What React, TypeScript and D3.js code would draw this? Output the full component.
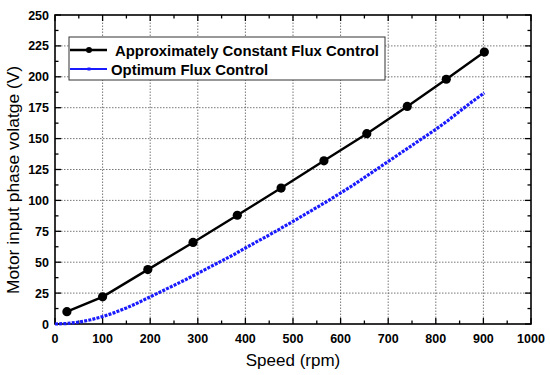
import React, { useEffect, useRef } from 'react';
import * as d3 from 'd3';

// Approximately constant flux control (markers)
const constSpeed = [25, 100, 195, 290, 383, 475, 565, 655, 740, 822, 902];
const constVolt = [10, 22, 44, 66, 88, 110, 132, 154, 176, 198, 220];

// Optimum flux control (dotted)
const optSpeed = [0, 25, 50, 75, 100, 125, 150, 175, 200, 225, 250, 275, 300, 325, 350, 375, 400, 425, 450,
  475, 500, 525, 550, 575, 600, 625, 650, 675, 700, 725, 750, 775, 800, 825, 850, 875, 902];
const optVolt = [0, 0.4, 1.5, 3.4, 6, 9.2, 13, 17.3, 22, 26.6, 31.3, 36, 41, 46, 51, 56, 61.5, 66.8, 72,
  77.5, 83, 88.6, 94.3, 100, 106, 112, 118.5, 125, 131.5, 138, 144.5, 151, 157.5, 164.5, 172, 179.5, 187];

const xTicks = [0, 100, 200, 300, 400, 500, 600, 700, 800, 900, 1000];
const yTicks = [0, 25, 50, 75, 100, 125, 150, 175, 200, 225, 250];
const legendLabels = ['Approximately Constant Flux Control', 'Optimum Flux Control'];

const App = () => {
  const ref = useRef<SVGSVGElement>(null);

  useEffect(() => {
    const width = 550;
    const height = 375;
    const margin = { top: 15, right: 19, bottom: 51, left: 55 };
    const svg = d3.select(ref.current);
    svg.selectAll('*').remove();

    const x = d3.scaleLinear().domain([0, 1000]).range([margin.left, width - margin.right]);
    const y = d3.scaleLinear().domain([0, 250]).range([height - margin.bottom, margin.top]);
    const font = 'Arial, "Liberation Sans", sans-serif';

    // grid
    const grid = svg.append('g').attr('stroke', '#555').attr('stroke-width', 0.8).attr('stroke-dasharray', '1.5,1.5');
    grid.selectAll('.gx').data(xTicks.slice(1, -1)).join('line')
      .attr('x1', (d) => x(d)).attr('x2', (d) => x(d)).attr('y1', y(0)).attr('y2', y(250));
    grid.selectAll('.gy').data(yTicks.slice(1, -1)).join('line')
      .attr('y1', (d) => y(d)).attr('y2', (d) => y(d)).attr('x1', x(0)).attr('x2', x(1000));

    // axes with inward ticks
    const xMinor = d3.range(50, 1000, 100);
    const yMinor = d3.range(12.5, 250, 25);
    const ax = svg.append('g').attr('stroke', '#000').attr('stroke-width', 1.3);
    const tick = (data: number[], len: number, cls: string) => {
      ax.selectAll('.xb' + cls).data(data).join('line').attr('class', 'xb' + cls)
        .attr('x1', (d) => x(d)).attr('x2', (d) => x(d)).attr('y1', y(0)).attr('y2', y(0) - len);
      ax.selectAll('.xt' + cls).data(data).join('line').attr('class', 'xt' + cls)
        .attr('x1', (d) => x(d)).attr('x2', (d) => x(d)).attr('y1', y(250)).attr('y2', y(250) + len);
    };
    const tickY = (data: number[], len: number, cls: string) => {
      ax.selectAll('.yl' + cls).data(data).join('line').attr('class', 'yl' + cls)
        .attr('y1', (d) => y(d)).attr('y2', (d) => y(d)).attr('x1', x(0)).attr('x2', x(0) + len);
      ax.selectAll('.yr' + cls).data(data).join('line').attr('class', 'yr' + cls)
        .attr('y1', (d) => y(d)).attr('y2', (d) => y(d)).attr('x1', x(1000)).attr('x2', x(1000) - len);
    };
    tick(xTicks, 6, 'M');
    tick(xMinor, 3.5, 'm');
    tickY(yTicks, 6, 'M');
    tickY(yMinor, 3.5, 'm');

    svg.append('rect')
      .attr('x', x(0)).attr('y', y(250))
      .attr('width', x(1000) - x(0)).attr('height', y(0) - y(250))
      .attr('fill', 'none').attr('stroke', '#000').attr('stroke-width', 1.6);

    // tick labels
    svg.append('g').selectAll('text').data(xTicks).join('text')
      .attr('x', (d) => x(d)).attr('y', y(0) + 19)
      .attr('text-anchor', 'middle').attr('font-family', font).attr('font-weight', 'bold').attr('font-size', 12.5)
      .text((d) => d);
    svg.append('g').selectAll('text').data(yTicks).join('text')
      .attr('x', x(0) - 6).attr('y', (d) => y(d) + 4.5)
      .attr('text-anchor', 'end').attr('font-family', font).attr('font-weight', 'bold').attr('font-size', 12.5)
      .text((d) => d);

    // axis titles
    svg.append('text').attr('x', x(500)).attr('y', 366).attr('text-anchor', 'middle')
      .attr('font-family', font).attr('font-size', 17).text('Speed (rpm)');
    svg.append('text').attr('transform', 'translate(19,180) rotate(-90)').attr('text-anchor', 'middle')
      .attr('font-family', font).attr('font-size', 17.4).text('Motor input phase volatge (V)');

    // series
    const constData = constSpeed.map((s, i) => [s, constVolt[i]] as [number, number]);
    const optData = optSpeed.map((s, i) => [s, optVolt[i]] as [number, number]);
    const line = d3.line<[number, number]>().x((d) => x(d[0])).y((d) => y(d[1]));

    svg.append('path').datum(optData).attr('d', line)
      .attr('fill', 'none').attr('stroke', '#1a1aff').attr('stroke-width', 3.2).attr('stroke-dasharray', '3,1.2');

    svg.append('path').datum(constData).attr('d', line)
      .attr('fill', 'none').attr('stroke', '#000').attr('stroke-width', 2.4);
    svg.append('g').selectAll('circle').data(constData).join('circle')
      .attr('cx', (d) => x(d[0])).attr('cy', (d) => y(d[1])).attr('r', 4.6).attr('fill', '#000');

    // legend
    const lg = svg.append('g');
    lg.append('rect').attr('x', 69).attr('y', 37).attr('width', 316).attr('height', 43)
      .attr('fill', '#fff').attr('stroke', '#333').attr('stroke-width', 1);
    lg.append('line').attr('x1', 70).attr('x2', 107).attr('y1', 50).attr('y2', 50)
      .attr('stroke', '#000').attr('stroke-width', 2.4);
    lg.append('circle').attr('cx', 89).attr('cy', 50).attr('r', 3).attr('fill', '#000');
    lg.append('line').attr('x1', 70).attr('x2', 107).attr('y1', 69).attr('y2', 69)
      .attr('stroke', '#1a1aff').attr('stroke-width', 2.2);
    lg.append('rect').attr('x', 87.5).attr('y', 67.5).attr('width', 3).attr('height', 3).attr('fill', '#1a1aff');
    lg.append('text').attr('x', 115).attr('y', 55.5).attr('font-family', font).attr('font-weight', 'bold')
      .attr('font-size', 14.9).text(legendLabels[0]);
    lg.append('text').attr('x', 111).attr('y', 74.5).attr('font-family', font).attr('font-weight', 'bold')
      .attr('font-size', 14.9).text(legendLabels[1]);
  }, []);

  return (
    <svg ref={ref} width={550} height={375}
      style={{ position: 'absolute', left: 0, top: 0, background: '#fff' }} />
  );
};

export default App;
